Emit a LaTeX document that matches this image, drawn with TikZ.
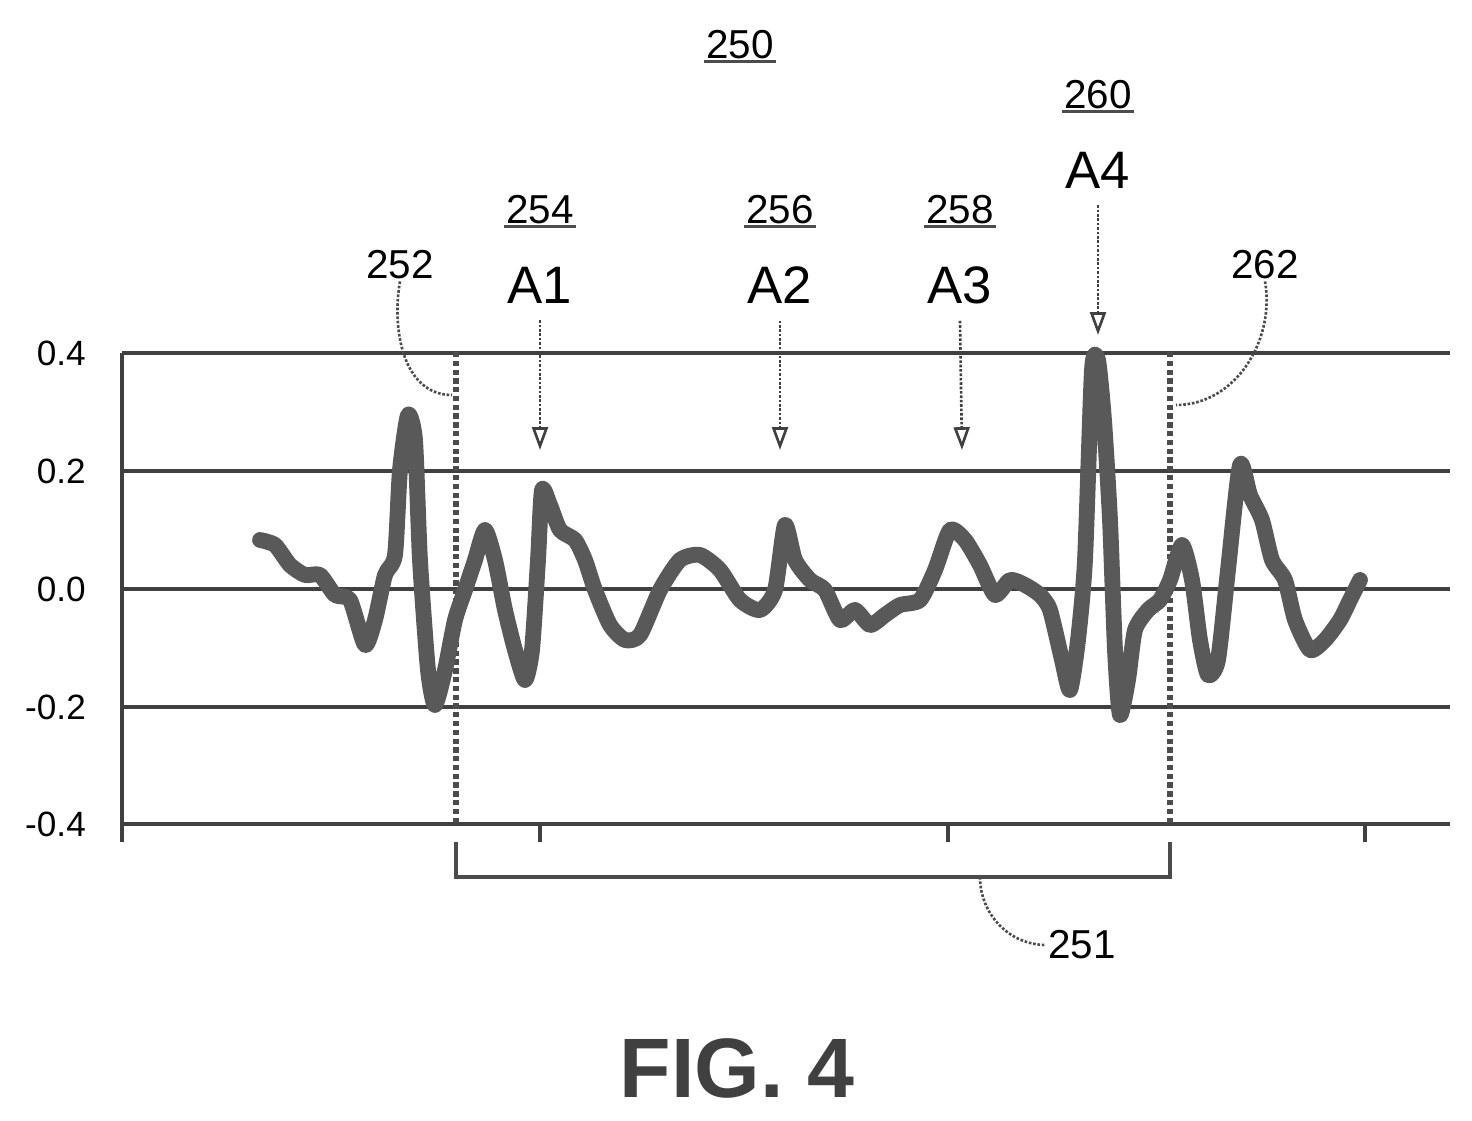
\documentclass[tikz,border=0pt]{standalone}
\usepackage{fontspec}
\setmainfont{Liberation Sans}
\usetikzlibrary{arrows.meta}
\begin{document}
\begin{tikzpicture}[x=0.02cm,y=-0.02cm,>={Triangle[open,length=13pt,width=9pt]}]
		\tikzstyle{grid}=[line width=2.2pt, draw=black!75]
		\tikzstyle{ref}=[font=\fontsize{23}{26}\selectfont, inner sep=1pt]
		\tikzstyle{refu}=[ref, draw=none, append after command={(\tikzlastnode.south west) edge[black!70, line width=1.5pt] (\tikzlastnode.south east)}]
		\tikzstyle{alabel}=[font=\fontsize{30}{34}\selectfont, inner sep=1pt]
		\tikzstyle{ylabel}=[font=\fontsize{20}{24}\selectfont, anchor=east]
		\tikzstyle{pointer}=[->, line width=1.5pt, black!75, densely dotted]
		\tikzstyle{leader}=[line width=1.5pt, black!70, densely dotted]
		\tikzstyle{marker}=[line width=3pt, black!70, densely dashed]
		\useasboundingbox (0,0) rectangle (1472,1121);

		% grid and axis
		\foreach \y/\v in {353/0.4, 471/0.2, 589/0.0, 707/-0.2, 824/-0.4} {
			\draw [grid] (122,\y) -- (1450,\y);
			\node [ylabel] at (92,\y) {\v};
		}
		\draw [grid] (122,353) -- (122,842);
		\foreach \x in {540,948,1365}
			\draw [grid] (\x,824) -- (\x,842);

		% markers and bracket
		\draw [marker] (456,352) -- (456,824);
		\draw [marker] (1170,352) -- (1170,824);
		\draw [leader, solid, line width=2pt] (456,842) -- (456,877) -- (1170,877) -- (1170,842);

		% waveform
		\draw [line width=9pt, black!65, line join=round, line cap=round] plot [smooth, tension=0.4] coordinates {
			(260,540) (275,545) (290,565) (305,575) (320,575) (335,595) (350,600) (365,645) (375,620) (385,575)
			(395,555) (400,470) (408,415) (415,440) (420,560) (428,670) (435,705) (445,670) (455,620) (465,590)
			(475,560) (485,530) (495,560) (505,610) (515,650) (525,680) (532,650) (538,560) (542,490) (550,505)
			(560,530) (575,540) (585,560) (595,590) (610,625) (625,640) (640,635) (660,590) (680,560) (700,555)
			(720,570) (740,600) (760,610) (775,590) (785,525) (795,560) (810,580) (825,590) (840,620) (855,610)
			(870,625) (885,615) (900,605) (920,600) (935,570) (950,530) (965,540) (980,565) (995,595) (1010,580)
			(1025,585) (1040,595) (1050,610) (1062,660) (1070,690) (1078,640) (1085,560) (1092,370) (1098,360) (1104,420)
			(1110,520) (1115,650) (1120,715) (1128,680) (1135,630) (1148,610) (1160,600) (1170,580) (1182,545) (1192,580)
			(1200,640) (1208,675) (1218,660) (1228,570) (1240,465) (1250,495) (1262,520) (1272,560) (1285,580) (1295,620)
			(1310,650) (1325,640) (1340,620) (1350,600) (1360,580)};

		% labels
		\node [refu] (n250) at (740,45) {250};
		\node [refu] (n254) at (540,210) {254};
		\node [alabel] (a1) at (540,285) {A1};
		\node [refu] (n256) at (780,210) {256};
		\node [alabel] (a2) at (780,285) {A2};
		\node [refu] (n258) at (960,210) {258};
		\node [alabel] (a3) at (960,285) {A3};
		\node [refu] (n260) at (1098,95) {260};
		\node [alabel] (a4) at (1098,170) {A4};
		\node [ref] (n252) at (400,265) {252};
		\node [ref] (n262) at (1265,265) {262};
		\node [ref] (n251) at (1082,945) {251};
		\node [font=\fontsize{48}{52}\selectfont\bfseries, text=black!75] (fig) at (737,1068) {FIG. 4};

		\coordinate (t1) at (540,450);
		\coordinate (t2) at (780,450);
		\coordinate (t3) at (962,450);
		\coordinate (t4) at (1098,335);
		\coordinate (m252) at (452,395);
		\coordinate (m262) at (1176,405);
		\coordinate (m251) at (980,877);

		\draw [pointer] (a1.south) ++(0,15) -- (t1);
		\draw [pointer] (a2.south) ++(0,15) -- (t2);
		\draw [pointer] (a3.south) ++(0,15) -- (t3);
		\draw [pointer] (a4.south) ++(0,15) -- (t4);
		\draw [leader] (n252.south) to [out=-100, in=180] (m252);
		\draw [leader] (n262.south) to [out=-80, in=0] (m262);
		\draw [leader] (m251) to [out=-90, in=180] (n251.west);
\end{tikzpicture}
\end{document}
